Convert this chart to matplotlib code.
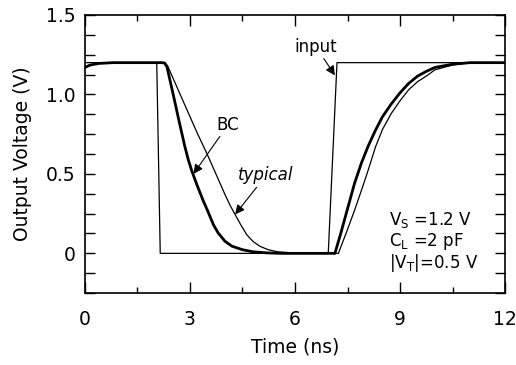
import matplotlib
matplotlib.use("Agg")
import matplotlib.pyplot as plt
from matplotlib.ticker import MultipleLocator

# input step (ns, V)
t_in = [0, 2.05, 2.15, 6.95, 7.2, 12]
v_in = [1.2, 1.2, 0, 0, 1.2, 1.2]

# BC output (thick)
t_bc = [0, 0.15, 0.4, 0.8, 2.2, 2.27, 2.34, 2.5, 2.7, 2.85, 2.95, 3.05, 3.2, 3.38, 3.5,
        3.67, 3.8, 4.0, 4.2, 4.5, 4.8, 5.2, 5.6, 7.0, 7.14, 7.3, 7.5, 7.7, 7.9, 8.1,
        8.3, 8.5, 8.75, 9.0, 9.25, 9.5, 9.75, 10.0, 10.5, 11.0, 12]
v_bc = [1.17, 1.185, 1.195, 1.2, 1.2, 1.198, 1.175, 1.02, 0.82, 0.675, 0.59, 0.52, 0.43, 0.33, 0.27,
        0.18, 0.13, 0.076, 0.045, 0.023, 0.01, 0.003, 0, 0, 0, 0.12, 0.28, 0.44, 0.57, 0.68,
        0.775, 0.86, 0.94, 1.01, 1.07, 1.115, 1.145, 1.17, 1.19, 1.2, 1.2]

# typical output (thin)
t_typ = [0, 0.15, 0.4, 0.8, 2.2, 2.28, 2.36, 2.6, 2.9, 3.2, 3.5, 3.8, 4.0, 4.15, 4.3,
         4.45, 4.62, 4.8, 5.0, 5.25, 5.5, 6.0, 6.5, 7.1, 7.24, 7.5, 7.7, 7.95, 8.1, 8.3,
         8.5, 8.75, 9.0, 9.25, 9.5, 9.75, 10.0, 10.5, 11.0, 12]
v_typ = [1.17, 1.185, 1.195, 1.2, 1.2, 1.2, 1.18, 1.06, 0.91, 0.76, 0.62, 0.47, 0.37, 0.30, 0.24,
         0.18, 0.118, 0.075, 0.044, 0.022, 0.01, 0.002, 0, 0, 0, 0.15, 0.27, 0.43, 0.53, 0.67,
         0.78, 0.88, 0.96, 1.03, 1.08, 1.115, 1.155, 1.185, 1.2, 1.2]

fig = plt.figure(figsize=(5.16, 3.65), dpi=100)
ax = fig.add_axes([0.1647, 0.197, 0.814, 0.762])

ax.plot(t_in, v_in, color="black", lw=0.9)
ax.plot(t_typ, v_typ, color="black", lw=0.9)
ax.plot(t_bc, v_bc, color="black", lw=2.0)

ax.set_xlim(0, 12)
ax.set_ylim(-0.25, 1.5)
ax.xaxis.set_major_locator(MultipleLocator(3))
ax.xaxis.set_minor_locator(MultipleLocator(1.5))
ax.yaxis.set_minor_locator(MultipleLocator(0.125))
ax.set_yticks([0, 0.5, 1.0, 1.5])
ax.set_yticklabels(["0", "0.5", "1.0", "1.5"])
ax.tick_params(which="both", direction="in", top=True, right=True, labelsize=13.5, width=1)
ax.tick_params(axis="x", which="major", length=8, pad=12)
ax.tick_params(axis="x", which="minor", length=4)
ax.tick_params(axis="y", which="both", length=7, pad=7)
for s in ax.spines.values():
    s.set_linewidth(1.2)

ax.set_xlabel("Time (ns)", fontsize=13.5, labelpad=6)
ax.set_ylabel("Output Voltage (V)", fontsize=13.5, labelpad=10)

arr = dict(arrowstyle="-|>", color="black", lw=0.8, mutation_scale=14, shrinkA=0, shrinkB=0)
ax.annotate("BC", xy=(3.1, 0.5), xytext=(4.09, 0.81), fontsize=12,
            ha="center", va="center", arrowprops=arr)
ax.annotate("typical", xy=(4.29, 0.245), xytext=(5.17, 0.49), fontsize=12, style="italic",
            ha="center", va="center", arrowprops=arr)
ax.annotate("input", xy=(7.14, 1.12), xytext=(6.6, 1.30), fontsize=12,
            ha="center", va="center", arrowprops=arr)

ax.text(8.69, 0.21, r"V$_\mathregular{S}$ =1.2 V", fontsize=12, va="center")
ax.text(8.69, 0.076, r"C$_\mathregular{L}$ =2 pF", fontsize=12, va="center")
ax.text(8.69, -0.063, r"|V$_\mathregular{T}$|=0.5 V", fontsize=12, va="center")

fig.savefig("out.png", dpi=100)
